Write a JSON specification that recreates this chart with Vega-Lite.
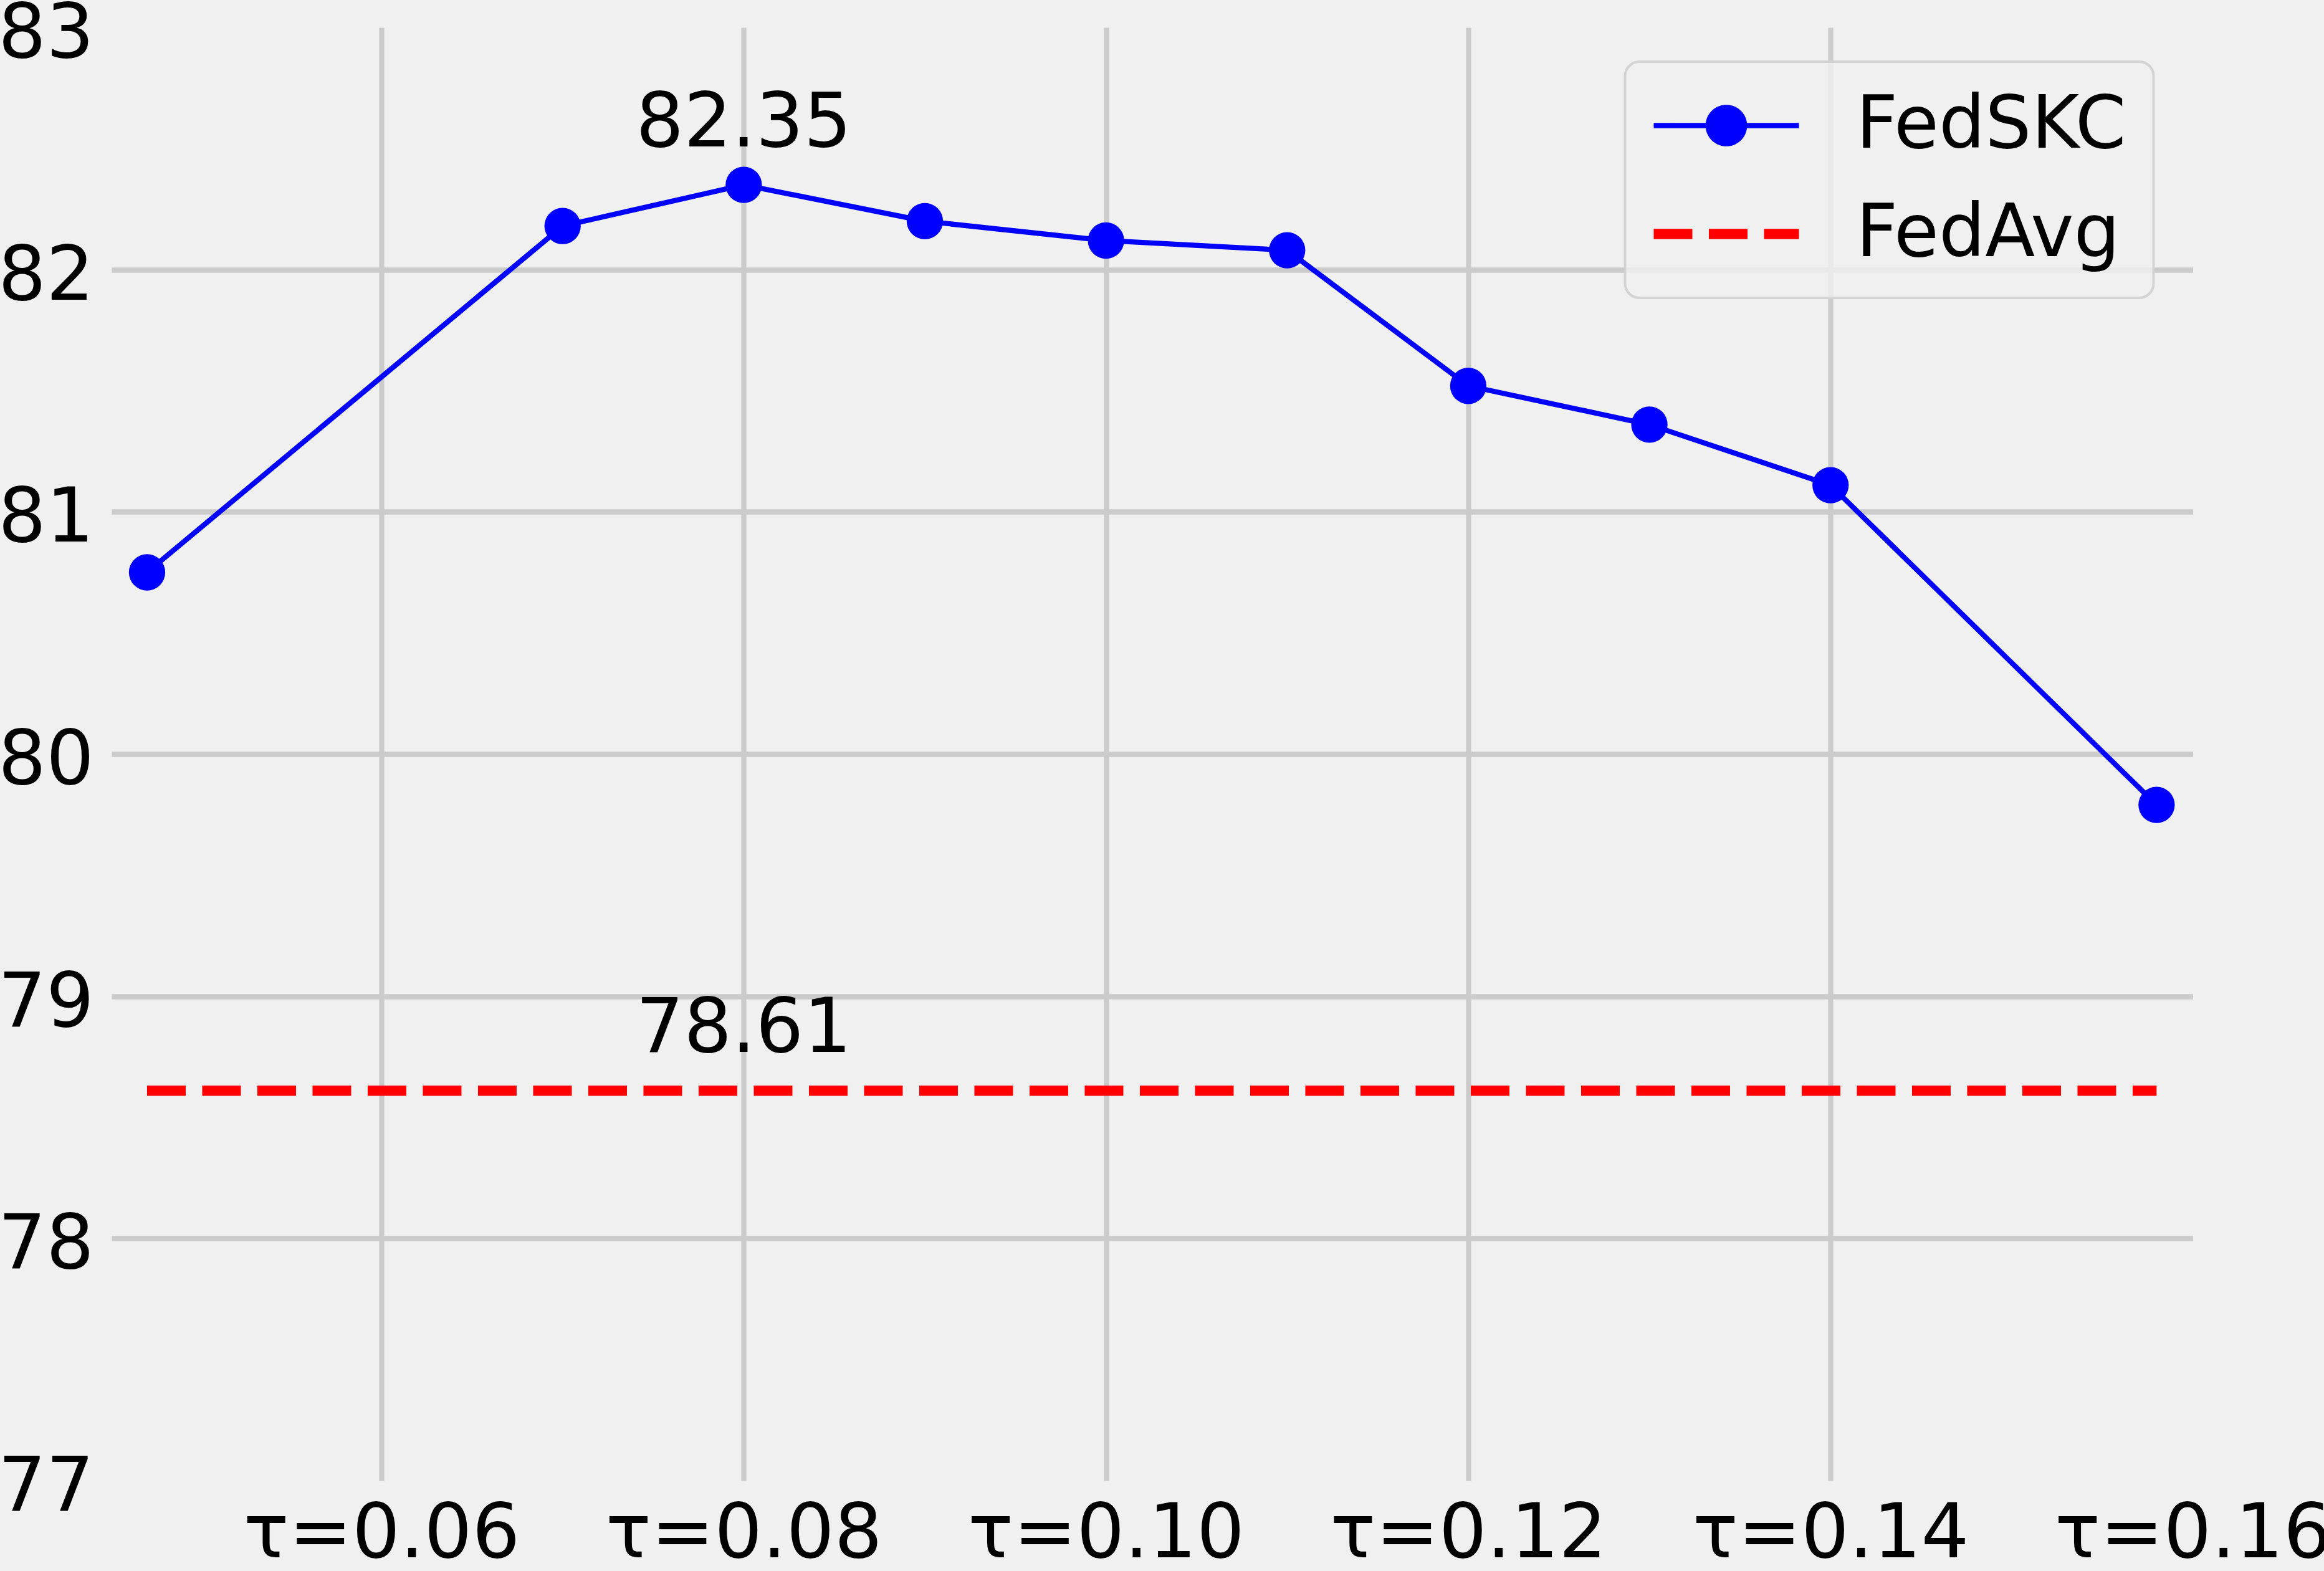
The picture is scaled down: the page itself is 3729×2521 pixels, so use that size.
{
  "$schema": "https://vega.github.io/schema/vega-lite/v6.json",
  "autosize": "none",
  "width": 3339.5,
  "height": 2332,
  "padding": {"left": 179, "top": 44, "right": 210.5, "bottom": 145},
  "background": "#f0f0f0",
  "config": {
    "view": {"stroke": null},
    "font": "DejaVu Sans",
    "axis": {
      "domain": false,
      "ticks": false,
      "labelFont": "DejaVu Sans",
      "labelFontSize": 121,
      "labelColor": "#000000",
      "labelLimit": 2000,
      "gridColor": "#cbcbcb",
      "gridWidth": 8.3,
      "title": null,
      "labelOverlap": false,
      "labelBound": false,
      "labelFlush": false
    }
  },
  "datasets": {
    "series": [
      {"tau": 0.04706, "acc": 80.75, "method": "FedSKC"},
      {"tau": 0.07, "acc": 82.18, "method": "FedSKC"},
      {"tau": 0.08, "acc": 82.35, "method": "FedSKC"},
      {"tau": 0.09, "acc": 82.2, "method": "FedSKC"},
      {"tau": 0.1, "acc": 82.12, "method": "FedSKC"},
      {"tau": 0.11, "acc": 82.08, "method": "FedSKC"},
      {"tau": 0.12, "acc": 81.52, "method": "FedSKC"},
      {"tau": 0.13, "acc": 81.36, "method": "FedSKC"},
      {"tau": 0.14, "acc": 81.11, "method": "FedSKC"},
      {"tau": 0.158, "acc": 79.79, "method": "FedSKC"},
      {"tau": 0.04706, "acc": 78.61, "method": "FedAvg"},
      {"tau": 0.158, "acc": 78.61, "method": "FedAvg"}
    ],
    "notes": [
      {"tau": 0.08, "acc": 82.35, "label": "82.35"},
      {"tau": 0.08, "acc": 78.61, "label": "78.61"}
    ]
  },
  "encoding": {
    "x": {
      "field": "tau",
      "type": "quantitative",
      "scale": {"domain": [0.0451, 0.16], "nice": false, "zero": false},
      "axis": {
        "values": [0.06, 0.08, 0.1, 0.12, 0.14, 0.16],
        "labelExpr": "'τ=' + format(datum.value, '.2f')",
        "labelPadding": 26,
        "gridOpacity": {"condition": {"test": "datum.value >= 0.1599", "value": 0}, "value": 1}
      }
    },
    "y": {
      "field": "acc",
      "type": "quantitative",
      "scale": {"domain": [77, 83], "nice": false, "zero": false},
      "axis": {
        "values": [77, 78, 79, 80, 81, 82, 83],
        "format": "d",
        "labelPadding": 28.5,
        "labelBaseline": "alphabetic",
        "labelOffset": 47.5,
        "gridOpacity": {"condition": {"test": "datum.value <= 77.01 || datum.value >= 82.99", "value": 0}, "value": 1}
      }
    }
  },
  "layer": [
    {
      "data": {"name": "series"},
      "transform": [{"filter": "datum.method === 'FedSKC'"}],
      "mark": {"type": "line", "strokeWidth": 8.3},
      "encoding": {
        "color": {
          "field": "method",
          "type": "nominal",
          "scale": {"domain": ["FedSKC", "FedAvg"], "range": ["#0000ff", "#ff0000"]},
          "legend": {
            "title": null,
            "orient": "none",
            "legendX": 2428.5,
            "legendY": 55,
            "padding": 44,
            "cornerRadius": 23,
            "strokeColor": "#d3d3d3",
            "fillColor": "rgba(240,240,240,0.8)",
            "rowPadding": 56,
            "symbolSize": 14400,
            "symbolOffset": 60,
            "labelFont": "DejaVu Sans",
            "labelFontSize": 117,
            "labelColor": "#000000",
            "labelOffset": 149.5,
            "labelLimit": 2000,
            "encode": {
              "legend": {"update": {"strokeWidth": {"value": 4}}},
              "symbols": {
                "update": {
                  "shape": {"signal": "datum.value === 'FedSKC' ? 'M-1.942,0H1.942M-0.486,0A0.486,0.486,0,1,1,0.486,0A0.486,0.486,0,1,1,-0.486,0Z' : 'M-1.942,0H1.942'"},
                  "fill": {"signal": "datum.value === 'FedSKC' ? '#0000ff' : 'transparent'"},
                  "stroke": {"signal": "datum.value === 'FedSKC' ? '#0000ff' : '#ff0000'"},
                  "strokeWidth": {"signal": "datum.value === 'FedSKC' ? 8.3 : 16.7"},
                  "strokeDash": {"signal": "datum.value === 'FedSKC' ? [1, 0] : [62, 26.5]"},
                  "size": {"value": 14400},
                  "opacity": {"value": 1},
                  "fillOpacity": {"value": 1},
                  "strokeOpacity": {"value": 1}
                }
              }
            }
          }
        }
      }
    },
    {
      "data": {"name": "series"},
      "transform": [{"filter": "datum.method === 'FedSKC'"}],
      "mark": {"type": "point", "filled": true, "size": 3400, "opacity": 1, "shape": "circle"},
      "encoding": {
        "color": {"field": "method", "type": "nominal"}
      }
    },
    {
      "data": {"name": "series"},
      "transform": [{"filter": "datum.method === 'FedAvg'"}],
      "mark": {"type": "line", "strokeWidth": 16.7, "strokeDash": [62, 26.5], "strokeCap": "butt"},
      "encoding": {
        "color": {"field": "method", "type": "nominal"}
      }
    },
    {
      "data": {"name": "notes"},
      "mark": {"type": "text", "font": "DejaVu Sans", "fontSize": 121, "align": "center", "baseline": "alphabetic", "dy": -62, "color": "#000000"},
      "encoding": {
        "text": {"field": "label", "type": "nominal"}
      }
    }
  ]
}
